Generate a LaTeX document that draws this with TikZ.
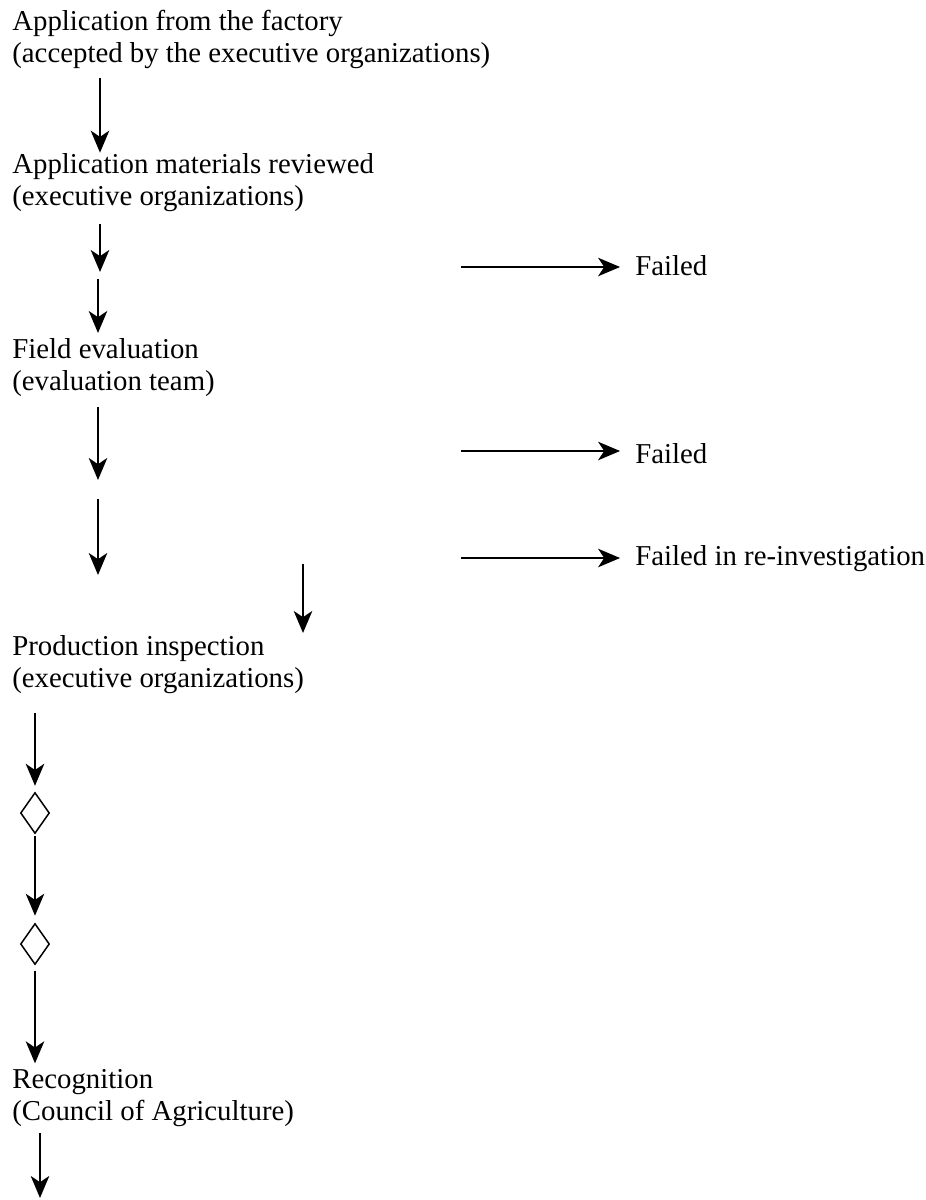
\documentclass[tikz,border=0pt]{standalone}
\usepackage{fontspec}
\setmainfont{Liberation Serif}
\usetikzlibrary{arrows.meta,shapes.geometric}
\tikzset{
   stepbox/.style = {anchor=base west, inner sep=0pt, align=left,
                     font=\fontsize{16.4pt}{18.2pt}\selectfont},
   failbox/.style = {stepbox},
   gate/.style    = {shape=diamond, draw, line width=0.85pt, inner sep=0pt,
                     minimum width=0.58cm, minimum height=0.82cm},
   flow/.style    = {-{Stealth[length=12.5pt,width=10.5pt,inset=3.5pt]},
                     line width=1.25pt}
}

\begin{document}
\begin{tikzpicture}[x=0.02cm, y=-0.02cm]
   \useasboundingbox (0,0) rectangle (926,1200);

   % steps of the procedure (placed at the baseline of their last line)
   \node[stepbox] (app)   at (12,62)
      {Application from the factory\\(accepted by the executive organizations)};
   \node[stepbox] (rev)   at (12,205)
      {Application materials reviewed\\(executive organizations)};
   \node[stepbox] (field) at (12,390)
      {Field evaluation\\(evaluation team)};
   \node[stepbox] (prod)  at (12,687)
      {Production inspection\\(executive organizations)};
   \node[stepbox] (recog) at (12,1120)
      {Recognition\\(Council of Agriculture)};

   % outcomes on the right
   \node[failbox] (fail1) at (635,275) {Failed};
   \node[failbox] (fail2) at (635,463) {Failed};
   \node[failbox] (fail3) at (635,565) {Failed in re-investigation};

   % decision marks
   \node[gate] (dia1) at (35,813) {};
   \node[gate] (dia2) at (35,944) {};

   % free ends of the arrows
   \coordinate (p1)  at (100,78);
   \coordinate (p2a) at (100,224);  \coordinate (p2b) at (100,272);
   \coordinate (p3a) at (98,279);   \coordinate (p3b) at (98,333);
   \coordinate (p4a) at (98,407);   \coordinate (p4b) at (98,480);
   \coordinate (p5a) at (98,499);   \coordinate (p5b) at (98,575);
   \coordinate (p6a) at (303,564);  \coordinate (p6b) at (303,633);
   \coordinate (p7)  at (35,713);
   \coordinate (p8a) at (40,1133);  \coordinate (p8b) at (40,1198);
   \coordinate (f1)  at (461,267);
   \coordinate (f2)  at (461,451);
   \coordinate (f3)  at (461,558);

   % main flow
   \draw[flow] (p1) -- (p1 |- rev.north);
   \draw[flow] (p2a) -- (p2b);
   \draw[flow] (p3a) -- (p3b);
   \draw[flow] (p4a) -- (p4b);
   \draw[flow] (p5a) -- (p5b);
   \draw[flow] (p6a) -- (p6b);
   \draw[flow, shorten >=3.4pt] (p7) -- (dia1.north);
   \draw[flow, shorten <=1pt, shorten >=4pt] (dia1.south) -- (dia2.north);
   \draw[flow, shorten <=3pt, shorten >=3pt] (dia2.south) -- (dia2.south |- recog.north);
   \draw[flow] (p8a) -- (p8b);

   % failure branches
   \foreach \f in {1,2,3}
      \draw[flow, shorten >=8.5pt] (f\f) -- (f\f -| fail\f.west);
\end{tikzpicture}
\end{document}
